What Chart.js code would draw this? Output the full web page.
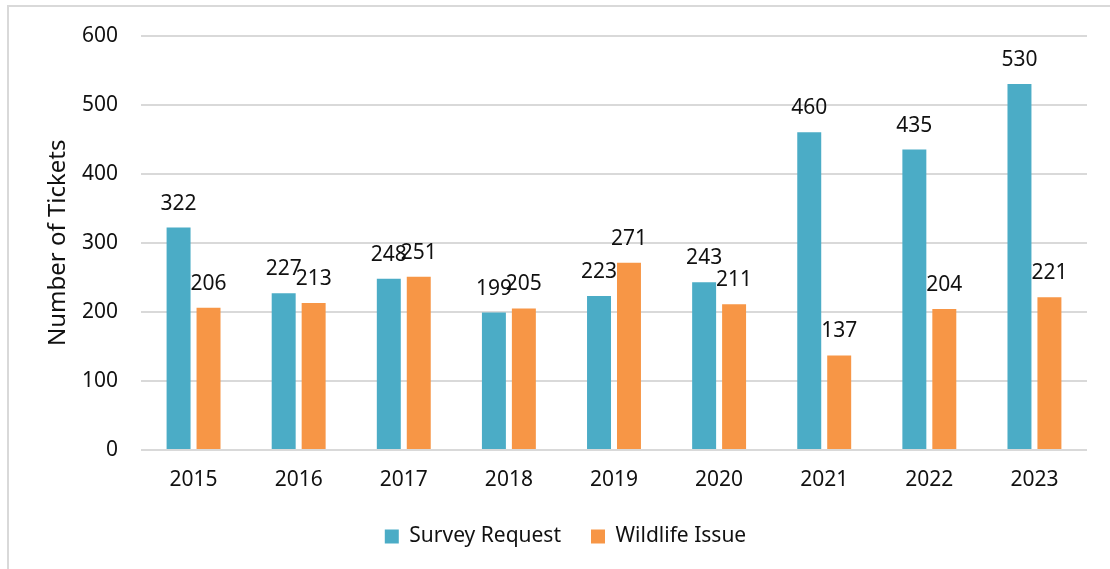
<!DOCTYPE html>
<html>
<head>
<meta charset="utf-8">
<title>Tickets by Year</title>
<script src="https://cdn.jsdelivr.net/npm/chart.js@4/dist/chart.umd.min.js"></script>
<style>
  html, body { margin: 0; padding: 0; background: #fff; overflow: hidden; }
  #frame {
    position: absolute; left: 7px; top: 5px; width: 1200px; height: 700px;
    border-left: 2px solid #d9d9d9; border-top: 2px solid #d9d9d9;
  }
  #wrap { position: absolute; left: 0; top: 0; width: 1110px; height: 569px; }
</style>
</head>
<body>
<div id="frame"></div>
<div id="wrap"><canvas id="ticketChart"></canvas></div>
<script>
const years = ['2015', '2016', '2017', '2018', '2019', '2020', '2021', '2022', '2023'];
const surveyRequests = [322, 227, 248, 199, 223, 243, 460, 435, 530];
const wildlifeIssues = [206, 213, 251, 205, 271, 211, 137, 204, 221];
const yTicks = [0, 100, 200, 300, 400, 500, 600];

const FONT = "'Noto Sans', 'Open Sans', sans-serif";
const INK = '#111';

// value labels above every bar
const barLabels = {
  id: 'barLabels',
  afterDatasetsDraw(chart) {
    const ctx = chart.ctx;
    ctx.save();
    ctx.font = '21px ' + FONT;
    ctx.fillStyle = INK;
    ctx.textAlign = 'center';
    ctx.textBaseline = 'alphabetic';
    chart.data.datasets.forEach((ds, i) => {
      chart.getDatasetMeta(i).data.forEach((bar, j) => {
        ctx.fillText(String(ds.data[j]), bar.x, bar.y - 18);
      });
    });
    ctx.restore();
  }
};

new Chart(document.getElementById('ticketChart'), {
  type: 'bar',
  data: {
    labels: years,
    datasets: [
      { label: 'Survey Request', data: surveyRequests, backgroundColor: '#4bacc6' },
      { label: 'Wildlife Issue', data: wildlifeIssues, backgroundColor: '#f79646' }
    ]
  },
  options: {
    responsive: true,
    maintainAspectRatio: false,
    animation: false,
    layout: { padding: { left: 44, right: 23, top: 34, bottom: 12 } },
    datasets: { bar: { categoryPercentage: 0.57, barPercentage: 0.8 } },
    plugins: {
      tooltip: { enabled: false },
      legend: {
        position: 'bottom',
        labels: {
          font: { family: FONT, size: 21 },
          color: INK,
          boxWidth: 14,
          boxHeight: 14,
          padding: 30
        }
      }
    },
    scales: {
      x: {
        afterFit(scale) { scale.height = 46; },
        grid: { display: false, drawTicks: false },
        border: { display: false },
        ticks: { font: { family: FONT, size: 21 }, color: INK, padding: 17 }
      },
      y: {
        min: 0,
        max: 600,
        afterBuildTicks(scale) { scale.ticks = yTicks.map(v => ({ value: v })); },
        afterFit(scale) { scale.width = 141 - 44; },
        grid: { color: '#d9d9d9', lineWidth: 2, drawTicks: false },
        border: { display: false },
        ticks: { font: { family: FONT, size: 21 }, color: INK, padding: 23 },
        title: {
          display: true,
          text: 'Number of Tickets',
          font: { family: FONT, size: 24 },
          color: INK,
          padding: { top: 0, bottom: 0 }
        }
      }
    }
  },
  plugins: [barLabels]
});
</script>
</body>
</html>
